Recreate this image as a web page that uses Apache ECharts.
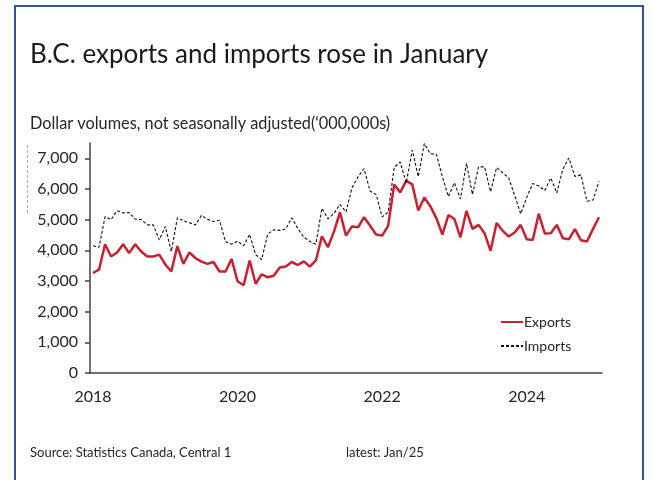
<!DOCTYPE html>
<html>
<head>
<meta charset="utf-8">
<script src="https://cdn.jsdelivr.net/npm/echarts@6/dist/echarts.min.js"></script>
<style>
  html, body { margin: 0; padding: 0; background: #fff; }
  #chart { width: 652px; height: 480px; }
</style>
</head>
<body>
<div id="chart"></div>
<script>
// monthly values, Jan 2018 .. Jan 2025 ($ millions)
const exportsData = [
  3260, 3370, 4200, 3800, 3930, 4200, 3910, 4200, 3960, 3800, 3800, 3860,
  3540, 3310, 4140, 3560, 3930, 3750, 3630, 3560, 3620, 3310, 3310, 3720,
  2990, 2860, 3670, 2910, 3220, 3120, 3170, 3440, 3470, 3620, 3520, 3640,
  3470, 3670, 4460, 4100, 4610, 5240, 4480, 4780, 4750, 5080, 4800, 4515,
  4480, 4800, 6150, 5890, 6270, 6150, 5300, 5720, 5440, 5050, 4515, 5150,
  5020, 4425, 5290, 4700, 4830, 4560, 3985, 4890, 4640, 4450, 4580, 4830,
  4360, 4340, 5190, 4550, 4560, 4830, 4395, 4360, 4690, 4330, 4290, 4690,
  5080
];
const importsData = [
  4150, 4100, 5100, 5000, 5290, 5220, 5230, 5020, 5000, 4830, 4830, 4340,
  4780, 3960, 5060, 4970, 4900, 4830, 5140, 5010, 4940, 4980, 4280, 4200,
  4300, 4150, 4520, 3860, 3700, 4530, 4670, 4650, 4700, 5060, 4710, 4430,
  4290, 4200, 5370, 5030, 5200, 5500, 5250, 6040, 6400, 6660, 5930, 5820,
  5090, 5245, 6700, 6880, 6200, 7270, 6400, 7480, 7150, 7130, 6400, 5750,
  6200, 5680, 6840, 5820, 6720, 6720, 5910, 6700, 6530, 6370, 5790, 5190,
  5720, 6180, 6100, 5950, 6360, 5870, 6650, 7010, 6410, 6460, 5600, 5640,
  6250
];
const years = [2018, 2019, 2020, 2021, 2022, 2023, 2024, 2025];
const yTicks = [0, 1000, 2000, 3000, 4000, 5000, 6000, 7000];

// category labels like 2018-01
const months = [];
years.forEach(y => {
  for (let m = 1; m <= 12; m++) {
    if (months.length < exportsData.length) {
      months.push(y + '-' + (m < 10 ? '0' + m : m));
    }
  }
});

const font = 'Lato';
const txt = '#262626';

const chart = echarts.init(document.getElementById('chart'));
chart.setOption({
  animation: false,
  backgroundColor: '#fff',
  textStyle: { fontFamily: font },
  title: [
    {
      text: 'B.C. exports and imports rose in January',
      left: 25, top: 37,
      textStyle: { fontFamily: font, fontSize: 26, fontWeight: 'normal', color: '#1a1a1a' }
    },
    {
      text: 'Dollar volumes, not seasonally adjusted(\u2018000,000s)',
      left: 25, top: 111,
      textStyle: { fontFamily: font, fontSize: 16.3, fontWeight: 'normal', color: txt }
    },
    {
      text: 'Source: Statistics Canada, Central 1',
      left: 25, top: 441,
      textStyle: { fontFamily: font, fontSize: 13, fontWeight: 'normal', color: txt }
    },
    {
      text: 'latest: Jan/25',
      left: 341, top: 441,
      textStyle: { fontFamily: font, fontSize: 13, fontWeight: 'normal', color: txt }
    }
  ],
  legend: {
    orient: 'vertical',
    left: 495, top: 310,
    itemWidth: 22, itemHeight: 10, itemGap: 10,
    itemStyle: { opacity: 0 },
    textStyle: { fontFamily: font, fontSize: 14, color: txt, padding: [0, 0, 0, -4] },
    data: ['Exports', 'Imports']
  },
  grid: { left: 90, top: 143, width: 512, bottom: 107 },
  xAxis: {
    type: 'category',
    data: months,
    boundaryGap: true,
    axisLine: { lineStyle: { color: '#404040', width: 1.5 } },
    axisTick: { interval: 11, length: 5, lineStyle: { color: '#404040', width: 1.5 } },
    axisLabel: {
      interval: 23, margin: 16,
      fontFamily: font, fontSize: 16, color: txt,
      formatter: v => v.slice(0, 4)
    },
    splitLine: { show: false }
  },
  yAxis: {
    type: 'value',
    min: 0, max: 7500,
    axisLine: { show: true, lineStyle: { color: '#404040', width: 1.5 } },
    axisTick: { show: true, customValues: yTicks, length: 5, lineStyle: { color: '#404040', width: 1.5 } },
    axisLabel: {
      customValues: yTicks, margin: 12,
      fontFamily: font, fontSize: 16, color: txt,
      formatter: v => v.toLocaleString('en-US')
    },
    splitLine: { show: false }
  },
  series: [
    {
      name: 'Exports',
      type: 'line',
      data: exportsData,
      symbol: 'none',
      lineStyle: { color: '#C8202F', width: 2.5 },
      itemStyle: { color: '#C8202F' }
    },
    {
      name: 'Imports',
      type: 'line',
      data: importsData,
      symbol: 'none',
      lineStyle: { color: '#111', width: 1.1, type: [3, 2] },
      itemStyle: { color: '#111' }
    }
  ],
  graphic: [
    {
      type: 'rect',
      shape: { x: 15, y: 6, width: 628, height: 480 },
      style: { fill: 'none', stroke: '#2F5597', lineWidth: 2 },
      silent: true
    },
    {
      type: 'line',
      shape: { x1: 27.5, y1: 145, x2: 27.5, y2: 213 },
      style: { stroke: '#999', lineWidth: 0.8, lineDash: [3, 2] },
      silent: true
    }
  ]
});
</script>
</body>
</html>
